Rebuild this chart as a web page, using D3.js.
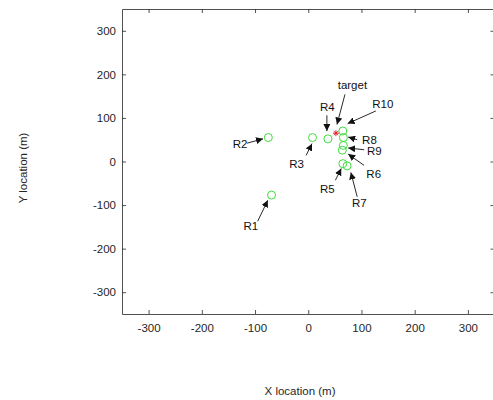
<!DOCTYPE html>
<html>
<head>
<meta charset="utf-8">
<script src="https://cdn.jsdelivr.net/npm/d3@7"></script>
<style>
  body { margin: 0; background: #fff; }
  text { font-family: "Liberation Sans", Arial, sans-serif; }
</style>
</head>
<body>
<script>

// receiver positions (m)
var names = ["R1", "R2", "R3", "R4", "R5", "R6", "R7", "R8", "R9", "R10"];
var xs = [-69, -75, 8, 37, 65, 64, 73, 66, 66, 65];
var ys = [-77, 55, 55, 52, -5, 26, -10, 55, 37, 70];

// target position (m)
var target = [52, 65];

// annotation text + arrow tail/head (data units)
var annNames = ["R1", "R2", "R3", "R4", "R5", "R6", "R7", "R8", "R9", "R10", "target"];
var textX = [-108, -128, -22, 36, 36, 123, 96, 115, 124, 140, 83];
var textY = [-148, 40, -6, 124, -62, -28, -95, 49, 24, 133, 175];
var tailX = [-95, -115, -4, 35, 51, 105, 92, 92, 105, 127, 69];
var tailY = [-137, 42, 14, 106, -43, -9, -81, 50, 27, 116, 154];
var headX = [-76, -85, 7, 35, 62, 75, 80, 75, 75, 74, 54];
var headY = [-89, 52, 41, 70, -16, 17, -25, 56, 31, 87, 85];

var xTicks = [-300, -200, -100, 0, 100, 200, 300];
var yTicks = [-300, -200, -100, 0, 100, 200, 300];

var w = 493;
var h = 400;
var padL = 122, padR = 494.5, padT = 9, padB = 314;

var svg = d3.select("body")
  .append("svg")
  .attr("width", w)
  .attr("height", h);

var x = d3.scaleLinear().domain([-350, 350]).range([padL, padR]);
var y = d3.scaleLinear().domain([-350, 350]).range([padB, padT]);

var axisColor = "#262626";
var fmt = function(d) { return String(d); };

// bottom + left axes with labels, inward ticks
var xAxis = svg.append("g")
  .attr("transform", "translate(0," + padB + ")")
  .call(d3.axisBottom(x).tickValues(xTicks).tickSizeInner(-4).tickSizeOuter(0).tickPadding(10).tickFormat(fmt));
var yAxis = svg.append("g")
  .attr("transform", "translate(" + padL + ",0)")
  .call(d3.axisLeft(y).tickValues(yTicks).tickSizeInner(-4).tickSizeOuter(0).tickPadding(6).tickFormat(fmt));
// top + right (box), ticks only
var xTop = svg.append("g")
  .attr("transform", "translate(0," + padT + ")")
  .call(d3.axisTop(x).tickValues(xTicks).tickSizeInner(-4).tickSizeOuter(0).tickFormat(""));
var yRight = svg.append("g")
  .attr("transform", "translate(" + padR + ",0)")
  .call(d3.axisRight(y).tickValues(yTicks).tickSizeInner(-4).tickSizeOuter(0).tickFormat(""));

[xAxis, yAxis, xTop, yRight].forEach(function(g) {
  g.select(".domain").attr("stroke", axisColor).attr("stroke-width", 0.8);
  g.selectAll(".tick line").attr("stroke", axisColor).attr("stroke-width", 0.8);
  g.selectAll(".tick text")
    .attr("fill", axisColor)
    .attr("font-size", 11.5)
    .style("font-family", "Liberation Sans, Arial, sans-serif");
});

// axis titles
svg.append("text")
  .attr("x", 300)
  .attr("y", 395)
  .attr("text-anchor", "middle")
  .attr("font-size", 11.5)
  .attr("fill", axisColor)
  .text("X location (m)");
svg.append("text")
  .attr("transform", "translate(27,168) rotate(-90)")
  .attr("text-anchor", "middle")
  .attr("font-size", 11.5)
  .attr("fill", axisColor)
  .text("Y location (m)");

// receivers
svg.selectAll("circle.rx")
  .data(names)
  .enter()
  .append("circle")
  .attr("class", "rx")
  .attr("cx", function(d, i) { return x(xs[i]); })
  .attr("cy", function(d, i) { return y(ys[i]); })
  .attr("r", 4)
  .attr("fill", "none")
  .attr("stroke", "#3ddc3d")
  .attr("stroke-width", 1);

// target marker (asterisk)
var tg = svg.append("g")
  .attr("transform", "translate(" + x(target[0]) + "," + y(target[1]) + ")")
  .attr("stroke", "#e8202a")
  .attr("stroke-width", 1);
tg.append("line").attr("x1", -3).attr("x2", 3).attr("y1", 0).attr("y2", 0);
tg.append("line").attr("x1", 0).attr("x2", 0).attr("y1", -3).attr("y2", 3);
tg.append("line").attr("x1", -2).attr("x2", 2).attr("y1", -2).attr("y2", 2);
tg.append("line").attr("x1", -2).attr("x2", 2).attr("y1", 2).attr("y2", -2);

// arrowhead
svg.append("defs").append("marker")
  .attr("id", "head")
  .attr("viewBox", "0 0 10 10")
  .attr("refX", 10)
  .attr("refY", 5)
  .attr("markerWidth", 7)
  .attr("markerHeight", 7)
  .attr("markerUnits", "userSpaceOnUse")
  .attr("orient", "auto")
  .append("path")
  .attr("d", "M0,0 L10,5 L0,10 z")
  .attr("fill", "#111");

// annotations
var ann = svg.selectAll("g.ann")
  .data(annNames)
  .enter()
  .append("g")
  .attr("class", "ann");

ann.append("line")
  .attr("x1", function(d, i) { return x(tailX[i]); })
  .attr("y1", function(d, i) { return y(tailY[i]); })
  .attr("x2", function(d, i) { return x(headX[i]); })
  .attr("y2", function(d, i) { return y(headY[i]); })
  .attr("stroke", "#111")
  .attr("stroke-width", 0.9)
  .attr("marker-end", "url(#head)");

ann.append("text")
  .attr("x", function(d, i) { return x(textX[i]); })
  .attr("y", function(d, i) { return y(textY[i]); })
  .attr("dy", "0.35em")
  .attr("text-anchor", "middle")
  .attr("font-size", 11.5)
  .attr("fill", "#111")
  .text(function(d) { return d; });

</script>
</body>
</html>
